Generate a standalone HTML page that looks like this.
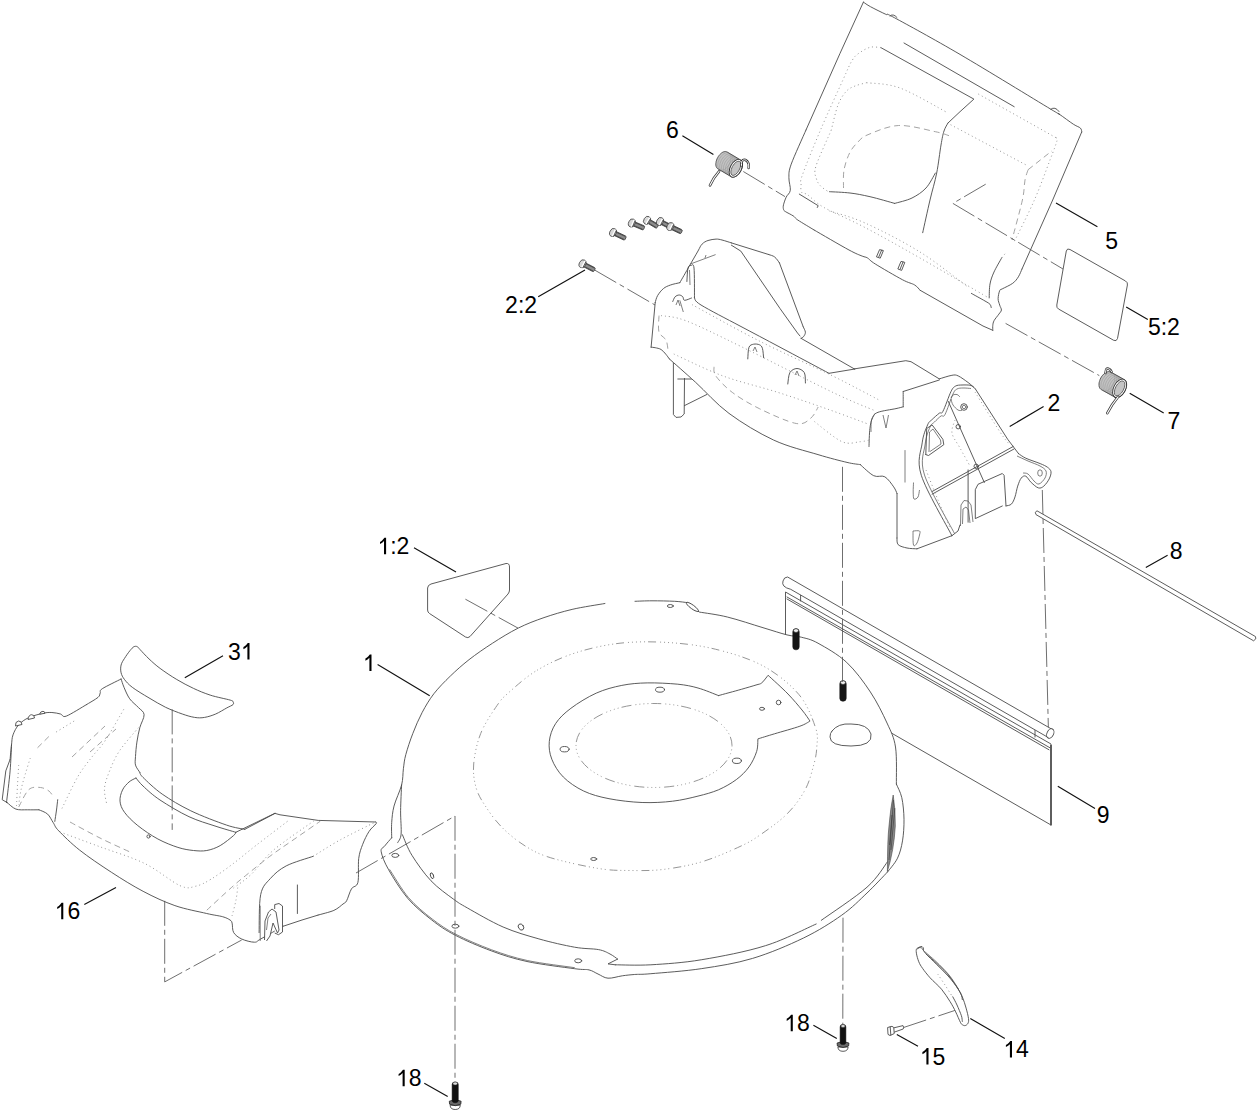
<!DOCTYPE html>
<html><head><meta charset="utf-8">
<style>
html,body{margin:0;padding:0;background:#fff;}
svg{display:block;}
text{font-family:"Liberation Sans",sans-serif;font-size:23px;fill:#000;}
.o{fill:none;stroke:#4a4a4a;stroke-width:0.9;stroke-linejoin:round;stroke-linecap:round;}
.w{fill:#fff;}
.ow{fill:#fff;stroke:#4a4a4a;stroke-width:0.9;stroke-linejoin:round;}
.nw{fill:#fff;stroke:none;}
.t{fill:none;stroke:#555;stroke-width:0.75;}
.d{fill:none;stroke:#8a8a8a;stroke-width:0.9;stroke-dasharray:1 3;}
.dd{fill:none;stroke:#999;stroke-width:0.9;stroke-dasharray:6 4;}
.c{fill:none;stroke:#555;stroke-width:0.85;stroke-dasharray:25 4 5 4;}
.l{fill:none;stroke:#111;stroke-width:1.15;}
.sp{fill:#c2c2c2;stroke:none;}
.k{fill:#151515;stroke:#151515;stroke-width:0.6;}
</style></head>
<body>
<svg width="1258" height="1110" viewBox="0 0 1258 1110">
<path class="c" d="M743.3 171.5 L785 196.6"/>
<path class="c" d="M1005.6 323.4 L1099.3 375.6"/>
<path class="c" d="M594.6 270 L655 305"/>
<path class="c" d="M1042.3 490 L1048.4 729"/>
<path class="c" d="M902.4 1027.9 L959.2 1009"/>
<path class="ow" d="M785.5 592 L1051 744 L1051 825 L785.5 672 Z"/>
<path class="o" d="M787 597 L1049.8 747.7"/>
<path class="o" d="M787 599 L1049 749.8"/>
<path d="M1051 745 L1051 825.5" stroke="#505050" stroke-width="1.7" fill="none"/>
<path class="o" d="M800.6 594.7 L800.6 601"/>
<path class="o" d="M1035 729.5 L1035 737"/>
<path class="ow" d="M787.6 577 L1052 729.3 L1047 736.8 L790.7 589.3 Q781 587 783 581 Q784 577 787.6 577 Z"/>
<ellipse class="ow" cx="1050.3" cy="733.5" rx="3.3" ry="5" transform="rotate(25 1050.3 733.5)"/>
<path class="ow" d="M1037 510.8 L1255.5 636.6 Q1257 639 1253.6 640.8 L1036 514.6 Q1034 512 1037 510.8 Z"/>
<path class="nw" d="M391.7 837.8 C391.7 835.2 391.3 827.8 391.7 822.5 C392.1 817.2 392.4 812.4 394 806.1 C395.6 799.9 400 791.2 401.6 785 C403.2 778.8 402.7 773.8 403.4 768.7 C404.1 763.6 404.2 760.5 405.8 754.6 C407.4 748.7 410.1 740.5 412.8 733.5 C415.5 726.5 418.7 719 422.2 712.4 C425.7 705.8 429.2 699.8 433.9 693.7 C438.6 687.7 444.4 681.8 450.3 676.1 C456.2 670.4 462 665.2 469 659.7 C476 654.2 484.2 648.6 492.4 643.3 C500.6 638 509.6 632.4 518.2 628.1 C526.8 623.8 535 620.7 544 617.6 C553 614.5 562 611.8 572.1 609.4 C582.2 607 594.4 604.9 604.9 603.5 C615.4 602.1 627.1 601.8 635 601.3 C642.9 600.8 645.4 600.8 652 600.8 C658.6 600.8 668.9 601 674.7 601.3 C680.6 601.6 683 600.8 687.1 602.6 C691.2 604.4 692.8 609.7 699.5 612.1 C706.2 614.5 716.7 614.4 727.3 617 C737.9 619.6 753 624.7 763 627.7 C773 630.7 780.6 633.3 787 634.9 C793.4 636.5 796.1 635.8 801.3 637.2 C806.5 638.6 810.5 639 818 643.2 C825.5 647.4 837.9 654.2 846.6 662.3 C855.3 670.4 863.7 681.9 870.4 692 C877.1 702.1 882.8 713.8 887 723 C891.2 732.2 893.9 736.8 895.5 747 C897.1 757.2 895.4 775.8 896.4 784.2 C897.4 792.7 900.5 791.9 901.8 797.7 C903.1 803.6 903.9 812.1 904 819.3 C904.1 826.5 903.6 834.4 902.5 840.9 C901.4 847.4 900 853 897.5 858.2 C895 863.4 892.6 866.2 887.5 872 C882.4 877.8 874.6 885.8 867 893 C859.4 900.2 852.3 907.7 841.7 915.2 C831.1 922.7 818.4 930.8 803.5 938 C788.6 945.2 769.6 953.3 752.6 958.4 C735.6 963.5 718.8 966 701.8 968.6 C684.8 971.2 662.1 972.7 650.9 973.7 C639.6 974.7 639.1 974.1 634.3 974.5 C629.5 974.9 626.7 975.2 622.3 975.8 C617.9 976.4 612 978.5 608 978.2 C604 977.9 601.2 975.4 598 974 C594.8 972.6 592.9 970.8 589 969.9 C585.1 969 584.9 970.1 574.6 968.7 C564.3 967.3 540.9 964.5 527 961.5 C513.1 958.5 503.1 955.2 491.2 950.8 C479.3 946.4 465.3 940.5 455.4 935.3 C445.4 930.1 439.4 926 431.5 919.8 C423.6 913.6 414.8 906.6 407.7 898.3 C400.6 889.9 393 877.5 388.6 869.7 C384.2 862 381.9 855.8 381.2 851.8 C380.5 847.8 382.9 848.3 384.7 846 C386.4 843.7 390.5 839.2 391.7 837.8 C392.9 836.4 391.7 840.3 391.7 837.8 Z"/>
<path class="o" d="M391.7 837.8 C391.7 835.2 391.3 827.8 391.7 822.5 C392.1 817.2 392.4 812.4 394 806.1 C395.6 799.9 400 791.2 401.6 785 C403.2 778.8 402.7 773.8 403.4 768.7 C404.1 763.6 404.2 760.5 405.8 754.6 C407.4 748.7 410.1 740.5 412.8 733.5 C415.5 726.5 418.7 719 422.2 712.4 C425.7 705.8 429.2 699.8 433.9 693.7 C438.6 687.7 444.4 681.8 450.3 676.1 C456.2 670.4 462 665.2 469 659.7 C476 654.2 484.2 648.6 492.4 643.3 C500.6 638 509.6 632.4 518.2 628.1 C526.8 623.8 535 620.7 544 617.6 C553 614.5 562 611.8 572.1 609.4 C582.2 607 599.4 604.5 604.9 603.5"/>
<path class="o" d="M635 601.3 C637.8 601.2 645.4 600.8 652 600.8 C658.6 600.8 668.9 601 674.7 601.3 C680.6 601.6 685 602.4 687.1 602.6"/>
<path class="o" d="M699.5 612.1 C704.1 612.9 716.7 614.4 727.3 617 C737.9 619.6 753 624.7 763 627.7 C773 630.7 780.6 633.3 787 634.9 C793.4 636.5 796.1 635.8 801.3 637.2 C806.5 638.6 810.5 639 818 643.2 C825.5 647.4 837.9 654.2 846.6 662.3 C855.3 670.4 863.7 681.9 870.4 692 C877.1 702.1 882.8 713.8 887 723 C891.2 732.2 893.9 736.8 895.5 747 C897.1 757.2 896.2 778 896.4 784.2"/>
<path class="o" d="M896.4 784.2 C897.3 786.5 900.5 791.9 901.8 797.7 C903.1 803.6 903.9 812.1 904 819.3 C904.1 826.5 903.6 834.4 902.5 840.9 C901.4 847.4 900 853 897.5 858.2 C895 863.4 889.2 869.7 887.5 872"/>
<path class="o" d="M887.5 872 C884.1 875.5 874.6 885.8 867 893 C859.4 900.2 852.3 907.7 841.7 915.2 C831.1 922.7 818.4 930.8 803.5 938 C788.6 945.2 769.6 953.3 752.6 958.4 C735.6 963.5 718.8 966 701.8 968.6 C684.8 971.2 662.1 972.7 650.9 973.7 C639.6 974.7 639.1 974.1 634.3 974.5 C629.5 974.9 626.7 975.2 622.3 975.8 C617.9 976.4 612 978.5 608 978.2 C604 977.9 601.2 975.4 598 974 C594.8 972.6 592.9 970.8 589 969.9 C585.1 969 584.9 970.1 574.6 968.7 C564.3 967.3 540.9 964.5 527 961.5 C513.1 958.5 503.1 955.2 491.2 950.8 C479.3 946.4 465.3 940.5 455.4 935.3 C445.4 930.1 439.4 926 431.5 919.8 C423.6 913.6 414.8 906.6 407.7 898.3 C400.6 889.9 393 877.5 388.6 869.7 C384.2 862 381.9 855.8 381.2 851.8 C380.5 847.8 382.9 848.3 384.7 846 C386.4 843.7 390.5 839.2 391.7 837.8"/>
<ellipse class="o" cx="692.5" cy="607" rx="7.6" ry="1.9" transform="rotate(36 692.5 607)"/>
<path class="o" d="M401.6 785 C401.4 789.3 400.7 802.6 400.6 810.8 C400.5 819 401.6 828.9 401.1 834.2 C400.6 839.5 398.2 841.3 397.6 842.7"/>
<path class="o" d="M402.4 834.7 C404 838.2 407.2 847.7 412 855.4 C416.8 863.1 424.1 873.5 431 880.8 C437.9 888.1 447.2 894.5 453.3 899 C459.4 903.5 459 903.2 467.3 907.9 C475.6 912.6 491.2 921.8 503.1 927 C515 932.2 527 935.5 538.9 938.9 C550.8 942.3 564.7 945.4 574.6 947.2 C584.5 949 592.6 948.5 598.5 949.6 C604.4 950.7 606.8 952.4 610 954 C613.2 955.6 616.3 958.2 617.6 959.1"/>
<path class="o" d="M617.6 959.1 L608 963.9 L615.3 964.8"/>
<path class="o" d="M615.3 964.8 C621.2 964.8 636.5 965.6 650.9 964.8 C665.3 963.9 682.7 962.9 701.8 959.7 C720.9 956.5 746.3 951.7 765.4 945.7 C784.5 939.8 807.7 927.6 816.2 924"/>
<path class="o" d="M821.3 920.3 C828.9 914.8 856 897 867 887.2 C878 877.5 884.1 866 887.5 861.8"/>
<path class="o" d="M718.5 695.6 C722.3 694.5 735.1 691.1 741.4 689.3 C747.6 687.5 752.6 686.1 756 685 C759.4 683.9 759.7 684.5 761.7 682.9 C763.7 681.3 767 676.6 768.1 675.3 C771.4 678.4 782.4 688.2 788 694 C793.6 699.8 798.3 705.5 802 710 C805.7 714.5 808.7 719.2 810 721.1 C808.3 722 805.8 724.1 799.9 726.2 C794 728.3 781.5 731.7 774.5 733.8 C767.5 735.9 760.7 738 757.9 738.9 C757.7 741 758.1 746.9 756.6 751.6 C755.1 756.3 752.4 762.2 749 766.9 C745.6 771.6 741.4 775.8 736.3 779.6 C731.2 783.4 724.9 787 718.5 789.8 C712.1 792.5 705.6 794.2 698 796.1 C690.4 798 681.9 800.1 672.6 801.2 C663.3 802.3 652.7 802.9 642.1 802.5 C631.5 802.1 618.8 800.6 609 798.7 C599.2 796.8 591.2 794.6 583.6 791 C576 787.4 568.6 782.3 563.3 777 C558 771.7 554.1 765.1 551.8 759.2 C549.5 753.3 548.7 747.3 549.3 741.4 C549.9 735.5 552 729.1 555.6 723.6 C559.2 718.1 564.1 713.4 570.9 708.3 C577.7 703.2 587.8 696.9 596.3 693.1 C604.8 689.3 613.3 687.1 621.8 685.4 C630.3 683.7 637.9 683.1 647.2 682.9 C656.5 682.7 669.3 683.4 677.8 684.2 C686.3 685.1 691.2 686.1 698 688 C704.8 689.9 715.1 694.3 718.5 695.6"/>
<path class="d" d="M537 670.3 C548 663.7 561.2 657.5 575 653 C588.8 648.5 604.5 645 620 643.2 C635.5 641.5 651.8 641.5 667.7 642.5 C683.6 643.5 699.5 645.3 715.4 649.2 C731.3 653.1 749.1 658.4 763 665.9 C776.9 673.4 790.1 684.2 798.9 694.5 C807.7 704.8 812.6 719.1 815.6 727.9 C818.6 736.6 817.1 740.8 816.8 747 C816.5 753.2 815.7 757.8 813.7 765 C811.7 772.2 809.5 781.8 805 790 C800.5 798.2 794.5 806.5 787 814 C779.5 821.5 767.8 829.6 760 835 C752.2 840.4 749.7 842 740 846.5 C730.3 851 714.5 858 701.8 861.8 C689.1 865.6 675.6 867.9 663.6 869.4 C651.6 870.9 640.9 870.6 630 870.5 C619.1 870.4 611.7 870.6 598.5 868.5 C585.3 866.4 563 861.5 550.8 857.8 C538.6 854 533.4 851.1 525.2 846 C517 840.9 508.4 833.9 501.8 827.2 C495.2 820.6 489.7 812.7 485.4 806.1 C481.1 799.5 477.9 794.4 476 787.4 C474.1 780.4 472.9 773 473.7 764 C474.5 755 476.8 743.3 480.7 733.5 C484.6 723.7 492.4 712.2 497.1 705.4 C501.8 698.6 502.2 698.4 508.8 692.5 C515.5 686.6 526 676.9 537 670.3 Z" style="stroke-dasharray:1 3 1 3 1 3 1 3 1 3 8 4"/>
<ellipse class="d" cx="654" cy="745.5" rx="78" ry="42" style="stroke-dasharray:1 3 1 3 1 3 1 3 10 4"/>
<path class="o" d="M832 731 Q838 723 851 724 Q868 724 871 734 Q873 746 851 746 Q830 746 830 737 Q830 733 832 731 Z"/>
<g class="o">
<ellipse cx="660" cy="689.7" rx="4.5" ry="2.5"/>
<ellipse cx="564.6" cy="749.2" rx="4.5" ry="2.7"/>
<ellipse cx="736.9" cy="760.8" rx="4.5" ry="2.7"/>
<ellipse cx="762" cy="708.8" rx="2.5" ry="1.5"/>
<circle cx="778.6" cy="702.5" r="2.3"/>
<ellipse cx="670.3" cy="606" rx="3" ry="1.5"/>
<ellipse cx="593.7" cy="859" rx="3" ry="1.5"/>
<ellipse cx="395.3" cy="855.4" rx="3.5" ry="2"/>
<ellipse cx="432" cy="875.7" rx="1.5" ry="3" transform="rotate(-20 432 875.7)"/>
<ellipse cx="455.4" cy="926.2" rx="3.5" ry="2"/>
<ellipse cx="521" cy="927" rx="2.5" ry="3.3" transform="rotate(-35 521 927)"/>
<ellipse cx="578.2" cy="960.8" rx="3.5" ry="2"/>
</g>
<path d="M887.4 871.5 Q887.4 840 889 826 Q890.5 808 893.2 795 Q895.6 810 895.3 826 Q894 850 887.4 871.5 Z" fill="#8a8a8a" stroke="#444" stroke-width="0.6"/>
<path d="M889 860 L893.5 800 M891 850 L894.8 808 M889.5 845 L892 815" stroke="#333" stroke-width="0.6" fill="none"/>
<path class="t" d="M389.5 869.3 C392.7 874 401.4 889.3 408.5 897.6 C415.6 905.9 424.3 912.9 432.2 919 C440.1 925.1 446.1 929.3 456 934.4 C465.9 939.5 479.7 945.4 491.6 949.8 C503.5 954.1 513.4 957.5 527.3 960.5 C541.2 963.5 566.9 966.5 574.8 967.7"/>
<rect class="k" x="792.8" y="628.8" width="6.4" height="21" rx="3"/><ellipse cx="796" cy="630.6" rx="2.5" ry="1.9" fill="#eee" stroke="#333" stroke-width="0.7"/>
<rect class="k" x="839.8" y="680.8" width="6.4" height="20.4" rx="3"/><ellipse cx="843" cy="682.6" rx="2.5" ry="1.9" fill="#eee" stroke="#333" stroke-width="0.7"/>
<path class="nw" d="M863.4 2.1 L870.5 6.7 L885.8 14.3 L894.4 17.7 L960 54.4 L1050.8 109.2 L1059 114 L1073.5 124.3 L1080.4 128.1 L1081.7 132 L1052.7 200 L1022 269 L1018.4 276.8 L1012.7 283.3 L1002.2 288.9 L999.7 290.6 L998.1 298.7 L999.7 305.1 L1001.4 310 L998.9 314.1 L994.1 320.6 L992.8 325.4 L992.8 330.3 L983 326 L920 290.2 L914.7 285 L902.4 279.7 L875.3 264 L867.4 257.9 L862.2 256.1 L849 250 L814.1 230 L797.9 220.1 L793.4 216 L785.3 211.5 L783.5 209.3 L783.5 204.8 L786.2 197.1 L790.3 190.4 L788.9 177.7 L791.2 164.2 L806 130 L840 53.4 Z"/>
<path class="o" d="M863.4 2.1 C864.6 2.9 866.8 4.7 870.5 6.7 C874.2 8.7 881.8 12.5 885.8 14.3 C889.8 16.1 882 11 894.4 17.7 C906.8 24.4 933.9 39.1 960 54.4 C986.1 69.7 1034.3 99.3 1050.8 109.2 C1067.3 119.1 1055.2 111.5 1059 114 C1062.8 116.5 1069.9 122 1073.5 124.3 C1077.1 126.6 1079 126.8 1080.4 128.1 C1081.8 129.4 1081.5 131.3 1081.7 132"/>
<path class="o" d="M1081.7 132 L1052.7 200 L1022 269"/>
<path class="o" d="M1022 269 C1021.4 270.3 1019.9 274.4 1018.4 276.8 C1016.9 279.2 1015.4 281.3 1012.7 283.3 C1010 285.3 1004.4 287.7 1002.2 288.9 C1000 290.1 1000.4 289 999.7 290.6 C999 292.2 998.1 296.3 998.1 298.7 C998.1 301.1 999.2 303.2 999.7 305.1 C1000.2 307 1001.5 308.5 1001.4 310 C1001.3 311.5 1000.1 312.3 998.9 314.1 C997.7 315.9 995.1 318.7 994.1 320.6 C993.1 322.5 993 323.8 992.8 325.4 C992.6 327 992.8 329.5 992.8 330.3"/>
<path class="o" d="M992.8 330.3 L983 326 L920 290.2"/>
<path class="o" d="M920 290.2 C919.1 289.3 917.6 286.8 914.7 285 C911.8 283.2 909 283.2 902.4 279.7 C895.8 276.2 881.1 267.6 875.3 264 C869.5 260.4 869.6 259.2 867.4 257.9 C865.2 256.6 865.3 257.4 862.2 256.1 C859.1 254.8 857 254.3 849 250 C841 245.7 819.9 233.3 814.1 230"/>
<path class="o" d="M814.1 230 C811.4 228.3 801.4 222.4 797.9 220.1 C794.4 217.8 795.5 217.4 793.4 216 C791.3 214.6 786.9 212.6 785.3 211.5 C783.6 210.4 783.8 210.4 783.5 209.3 C783.2 208.2 783 206.8 783.5 204.8 C784 202.8 785.1 199.5 786.2 197.1 C787.3 194.7 789.8 193.6 790.3 190.4 C790.8 187.2 788.8 182.1 788.9 177.7 C789 173.3 788.4 172.1 791.2 164.2 C794.1 156.2 803.5 135.7 806 130"/>
<path class="o" d="M806 130 L840 53.4 L863.4 2.1"/>
<path class="o" d="M890 16 Q893 13 897 17.5"/>
<path class="o" d="M1050.8 109.2 Q1055 106 1059 111.5"/>
<path class="o" d="M904 43 L1014.2 106.7"/>
<path class="o" d="M881 47.7 L973.9 99.1 L960 111.7 L948 123"/>
<path class="o" d="M948 123 C947.3 124.3 945.2 127.3 944 131 C942.8 134.7 942.2 138 941 145 C939.8 152 938.5 163.8 936.7 173 C934.9 182.2 932.3 190.1 930 200 C927.7 209.9 923.9 227.2 922.7 232.7"/>
<path class="o" d="M829.5 191.7 C832.9 191.9 843.2 192.2 850 193 C856.8 193.8 862.5 195 870 196.7 C877.5 198.4 890.6 202.3 894.7 203.4"/>
<path class="o" d="M894.7 203.4 C897.6 202.5 906.8 200.6 912 198 C917.2 195.4 922.1 192.2 926 188 C929.9 183.8 933.8 175.5 935.4 173"/>
<path class="o" d="M799.3 194.1 L818.2 205.7 L817.3 207.5"/>
<path class="o" d="M971.4 293.4 C973.7 294.7 981.9 299.2 985 301 C988.1 302.8 989 303.2 990 304.3 C991 305.4 991 307.1 991.2 307.6"/>
<path class="o" d="M989.2 297.9 C989.3 295.6 989.2 288.3 990 284 C990.8 279.7 992 276.4 994 272 C996 267.6 1000.5 260.1 1001.8 257.7"/>
<path class="d" d="M1001.8 257.7 L1006.2 252.4"/>
<path class="d" d="M881 47.7 C879.2 47.6 874 46.4 870.5 47.2 C867 48 863 50.4 860 52.5 C857 54.6 855.2 55.4 852.4 60 C849.5 64.6 848.2 68.3 842.9 80 C837.6 91.7 827.2 114.2 820.5 130 C813.8 145.8 805.6 166 802.4 175 C799.2 184 801.2 181.1 801.1 184 C801 186.9 800.4 190.4 801.5 192.2 C802.6 194 804 192.3 807.8 194.9 C811.5 197.5 814.5 202.1 824 207.5 C833.5 212.9 848.6 218.9 864.6 227.3 C880.6 235.7 899.3 246.2 920 258 C940.7 269.8 977.3 291.3 988.8 298"/>
<path class="d" d="M831.3 130 C828.8 136 818.5 157.9 816 166 C813.5 174.1 815.6 175.3 816.4 178.6 C817.1 181.9 818.6 183.8 820.5 185.9 C822.4 188 826.5 190.4 827.7 191.3"/>
<path class="d" d="M866.7 82.7 C864.8 83.2 858.5 84.5 855 86 C851.5 87.5 848.8 88.4 846 91.6 C843.2 94.8 840.5 98.6 838 105 C835.5 111.4 832.4 125.8 831.3 130"/>
<path class="d" d="M866.7 82.7 C872.2 83.6 886.5 83 900 88 C913.5 93 940 108.8 948 113"/>
<path class="d" d="M829.5 211 C835.4 213 849.5 216 864.6 222.8 C879.7 229.6 902.7 241.2 920 252 C937.3 262.8 960.4 281.5 968.5 287.4"/>
<path class="d" d="M978.3 94 L1055.8 137.6"/>
<path class="d" d="M1055.8 137.6 C1056 138.1 1058 137 1057 140.7 C1056 144.4 1053.8 150.1 1050 160 C1046.2 169.9 1040.4 186.4 1034.4 200 C1028.5 213.6 1017.6 234.7 1014.3 241.6"/>
<path class="d" d="M950.6 124.7 L1025.6 164.7"/>
<path class="dd" d="M1028.1 169.7 L1052 150.8"/>
<path class="dd" d="M1028.1 169.7 C1027.6 171.4 1026 174.9 1025 180 C1024 185.1 1024.6 190 1022.4 200 C1020.2 210 1013.7 233.3 1012 240"/>
<path class="dd" d="M843.5 188 C843.6 185 843 175.8 844 170 C845 164.2 847.3 157.7 849.6 153 C851.9 148.3 854.9 145.1 858 142 C861.1 138.9 861.2 137.4 868 134.7 C874.8 131.9 887.4 126 898.6 125.5 C909.8 125 926.7 129.9 935.3 131.7 C943.9 133.4 947.5 135.3 950 136"/>
<path class="o" d="M876.6 256.5 L879.6 249.6 L883.4 250.6 L880.4 257.8 Z M878.8 256.8 L881.6 250.2"/>
<path class="o" d="M898 268.6 L901 261.4 L904.8 262.4 L901.8 270 Z M900.2 269 L903 262"/>
<path class="ow" d="M673.4 362 L673.4 414.5 L676 417.4 L681 417 L684.2 414 L684.5 378"/>
<path class="o" d="M684.5 405.6 L706.8 394.5"/>
<path class="o" d="M677.8 379 L692.3 379"/>
<path class="nw" d="M679.8 282.7 L689.2 266.3 L702.1 244.1 L706.8 241.1 L716.1 239.1 L722 240 L731.4 242.9 L768.9 254.6 L774.7 257 L779.4 262.8 L803.3 327 L805.4 332.2 L803.6 336.6 L801 338.3 L854.3 368.9 L905.8 360.7 L911 361.7 L939.3 378.9 L951.9 375.3 L958.2 375.9 L968.1 382.5 L975.3 388.8 L1007.7 439.3 L1018.6 453.7 L1025.8 458.2 L1040.2 463.6 L1047.4 467.2 L1051 471.7 L1049.2 478.9 L1043.8 486.1 L1038.4 487.9 L1031.2 482.5 L1025.8 476.2 L1021.3 478 L1017.7 486.1 L1015 496.9 L1011.4 504.1 L1006 505.9 L1002.3 506 L975.3 520 L975.3 524 L968 527 L960 525 L958 531 L951.9 535.7 L917 548.8 L907 548 L898.2 544.7 L897 538 L897 493.5 L893.7 486.9 L884.8 476.8 L873.7 475.7 L860.3 464.6 L847 462.4 L818 454.6 L773.5 440 L729 413.4 L695.6 382.3 L669.3 358.9 L665.8 354.2 L661.1 349.5 L655.2 347.7 L651.1 347.2 L655.2 302.6 L657.6 295.6 L663.4 288.6 L670.5 285 Z"/>
<path class="o" d="M679.8 282.7 C681.4 280 686.2 271.6 689.2 266.3 C692.2 261 695.9 254.7 698 251 C700.1 247.3 700.4 245.8 702.1 244.1 C703.8 242.3 705.7 241.3 708 240.5 C710.3 239.7 713.8 239.2 716.1 239.1 C718.4 239 719.5 239.4 722 240 C724.5 240.6 729.8 242.4 731.4 242.9"/>
<path class="o" d="M731.4 242.9 L768.9 254.6"/>
<path class="o" d="M768.9 254.6 C769.9 255 773 255.6 774.7 257 C776.5 258.4 778.6 261.8 779.4 262.8"/>
<path class="o" d="M779.4 262.8 L803.3 327"/>
<path class="o" d="M803.3 327 C803.6 327.9 805.3 330.6 805.4 332.2 C805.5 333.8 804.3 335.6 803.6 336.6 C802.9 337.6 801.4 338 801 338.3"/>
<path class="o" d="M801 338.3 L854.3 368.9"/>
<path class="o" d="M731.4 245.2 L740.8 251.1 L780 308.5 L797.5 333 L800 336"/>
<path class="t" d="M690.4 264 L715.6 254.6"/>
<path class="t" d="M705 258 L706 255"/>
<path class="o" d="M686.9 281.5 C687.1 279.2 687.3 270.7 688 268 C688.7 265.3 690 265.5 691 265.5 C692 265.5 693.4 262.6 694 268 C694.6 273.4 694.4 293 694.5 298"/>
<path class="t" d="M689.5 270 L690 285"/>
<path class="o" d="M679.8 282.7 C678.2 283.1 673.2 284 670.5 285 C667.8 286 665.5 286.8 663.4 288.6 C661.2 290.4 659 293.3 657.6 295.6 C656.2 297.9 655.6 301.4 655.2 302.6"/>
<path class="o" d="M655.2 302.6 L651.1 347.2"/>
<path class="o" d="M651.1 347.2 C651.8 347.3 653.5 347.3 655.2 347.7 C656.9 348.1 659.3 348.4 661.1 349.5 C662.9 350.6 664.4 352.6 665.8 354.2 C667.2 355.8 668.7 358.1 669.3 358.9"/>
<path class="o" d="M669.3 358.9 C673.7 362.8 685.6 373.2 695.6 382.3 C705.6 391.4 716 403.8 729 413.4 C742 423 758.7 433.1 773.5 440 C788.3 446.9 805.8 450.9 818 454.6 C830.2 458.3 840 460.7 847 462.4 C854 464.1 858.1 464.2 860.3 464.6"/>
<path class="o" d="M860.3 464.6 C862.5 466.5 869.6 473.7 873.7 475.7 C877.8 477.7 881.5 474.9 884.8 476.8 C888.1 478.7 891.7 484.1 893.7 486.9 C895.7 489.7 896.5 492.4 897 493.5"/>
<path class="o" d="M897 493.5 L897 538"/>
<path class="o" d="M897 538 C897.2 539.1 896.5 543 898.2 544.7 C899.9 546.4 903.9 547.3 907 548 C910.1 548.7 915.3 548.7 917 548.8"/>
<path class="o" d="M917 548.8 L951.9 535.7"/>
<path class="o" d="M1006 505.9 C1006.9 505.6 1009.9 505.6 1011.4 504.1 C1012.9 502.6 1014 499.9 1015 496.9 C1016 493.9 1016.7 489.2 1017.7 486.1 C1018.8 483 1019.9 479.6 1021.3 478 C1022.6 476.4 1024.1 475.4 1025.8 476.2 C1027.5 476.9 1029.1 480.6 1031.2 482.5 C1033.3 484.4 1036.3 487.3 1038.4 487.9 C1040.5 488.5 1042 487.6 1043.8 486.1 C1045.6 484.6 1048 481.3 1049.2 478.9 C1050.4 476.5 1051.3 473.6 1051 471.7 C1050.7 469.8 1049.2 468.5 1047.4 467.2 C1045.6 465.9 1043.8 465.1 1040.2 463.6 C1036.6 462.1 1029.4 459.9 1025.8 458.2 C1022.2 456.5 1019.8 454.4 1018.6 453.7"/>
<path class="o" d="M1018.6 453.7 L1007.7 439.3 L975.3 388.8"/>
<path class="o" d="M975.3 388.8 C974.1 387.8 971 384.6 968.1 382.5 C965.2 380.4 960.9 377.1 958.2 375.9 C955.5 374.7 955 374.8 951.9 375.3 C948.8 375.8 941.4 378.3 939.3 378.9"/>
<path class="o" d="M939.3 378.9 L911 361.7 L905.8 360.7 L854.3 368.9"/>
<path class="t" d="M1017 456 C1018.8 456.8 1024.2 459.3 1028 461 C1031.8 462.7 1037 464.3 1040 466 C1043 467.7 1045.2 469 1046 471 C1046.8 473 1046.2 475.8 1045 478 C1043.8 480.2 1040.8 483.5 1039 484 C1037.2 484.5 1035.8 482.7 1034 481 C1032.2 479.3 1029.8 475.3 1028 474 C1026.2 472.7 1023.8 473.2 1023 473"/>
<path class="o" d="M1006 505.9 L1004.1 475.3 L1002.3 473.5 L978 484.3 L975.3 489.7 L975.3 518.6 L1002.3 506"/>
<path class="o" d="M968.1 469.9 L968.1 522.2"/>
<path class="t" d="M960.5 526 L961 505 L964 500.5 L968 501 L971 505 L973 522"/>
<path class="t" d="M962.5 524 L963 509 L966 507 L968.5 510 L970 523"/>
<path class="o" d="M951.9 535.7 L958 531 L960 525"/>
<path class="o" d="M694.5 298 C695.6 299.2 693.4 300.3 701 305 C708.6 309.7 726.8 319 740 326 C753.2 333 765.2 339.3 780 347.2 C794.8 355.1 820.8 368.9 829 373.3"/>
<path class="o" d="M829 373.3 L855 369"/>
<path class="o" d="M672.8 301.5 C673.2 300.7 674 297.9 675.1 296.8 C676.2 295.7 677.9 295 679.2 295 C680.5 295 681.9 295.9 682.8 296.8 C683.7 297.7 683 300.1 684.5 300.3 C686 300.5 690.3 298.4 691.5 298"/>
<path class="o" d="M747.8 358.9 C748 356.9 748 349.6 749 347.2 C750 344.8 751.9 344.6 753.6 344.2 C755.4 343.8 758 344.1 759.5 344.8 C761 345.5 761.7 346.2 762.4 348.3 C763.1 350.4 763.4 356.1 763.6 357.7"/>
<path class="o" d="M787.8 384 C788.1 382.1 788.4 375.2 789.9 372.6 C791.4 370 794.6 368.5 797 368.5 C799.4 368.5 802.9 370.2 804.3 372.6 C805.7 375 805.2 381.3 805.4 383"/>
<path class="t" d="M679.8 300.3 L683.3 312"/>
<path class="t" d="M676 305 L678 300 L680 306"/>
<path class="t" d="M753 351 L755 347 L757 352"/>
<path class="t" d="M795 375 L797 371 L799 376"/>
<path class="o" d="M903.2 391.5 L939.3 380"/>
<path class="o" d="M903.2 391.5 C903.2 394.1 903.2 404.2 903.2 406.8"/>
<path class="o" d="M903.2 406.8 C902 407.1 900.2 407.7 896 408.6 C891.8 409.5 881.9 410.8 878 412.3 C874.1 413.8 874 415 872.6 417.7 C871.2 420.4 870.5 423.7 869.9 428.5 C869.3 433.3 869.1 443.5 869 446.5"/>
<path class="t" d="M875.5 413 C874.8 414.2 872.2 416.8 871.5 420 C870.8 423.2 871.1 430 871 432"/>
<path class="t" d="M905 450.1 L905 482.5"/>
<path class="t" d="M883 415 L886 428 L888.5 415"/>
<path class="t" d="M913.5 482.5 C913.5 484.1 913.1 489.2 913.2 492 C913.3 494.8 913.2 498.2 914 499 C914.8 499.8 917.1 498.5 918 497 C918.9 495.5 919.2 491.2 919.5 490"/>
<path class="t" d="M913 531 C913.1 533.3 912.8 543 913.5 545 C914.2 547 916 544.7 917 543 C918 541.3 919.1 537 919.5 535 C919.9 533 920.6 531.7 919.5 531 C918.4 530.3 914.1 531 913 531"/>
<path class="o" d="M951.9 535.7 C946.8 525.6 926.2 490.8 921.3 475.3 C916.3 459.8 921.2 451.3 922.2 442.9 C923.2 434.5 926 428.8 927.6 424.9 C929.2 421 930.2 421.4 932.1 419.5 C934 417.6 937.5 414.6 939.3 413.2 C941.1 411.8 940.9 415 942.9 411.4 C944.9 407.8 948.9 395.7 951 391.5 C953.1 387.3 953.7 387.2 955.5 386.1 C957.3 385 959.6 385.1 962 385 C964.4 384.9 968 384.9 969.9 385.2 C971.8 385.5 972.9 386.7 973.5 387"/>
<path class="t" d="M954.5 533.5 C949.5 523.8 929.4 489.9 924.5 475 C919.6 460.1 924.3 452 925.2 444 C926.1 436 928.5 430.7 930 427 C931.5 423.3 932.7 423.8 934.5 422 C936.3 420.2 939.2 417.2 941 416 C942.8 414.8 943 418.2 945 414.5 C947 410.8 951 398.2 953 394 C955 389.8 955.3 390 957 389 C958.7 388 960.7 388.1 963 388 C965.3 387.9 969.7 388.4 971 388.5"/>
<path class="o" d="M925.8 454.6 L926.7 428.5 L932.1 424.9 L942.9 439.3 L943.8 444.7 L928.5 455.5 L925.8 454.6"/>
<path class="t" d="M929 452 L929.5 432 L933 429 L940.5 440 L941 444 L930 451.5"/>
<path class="o" d="M932.1 491.5 L1013.2 446.5"/>
<path class="o" d="M932.1 494.2 L1014 449"/>
<path class="o" d="M948.3 401.4 L984.3 482.5"/>
<circle class="o" cx="964" cy="407" r="3.3"/><circle class="t" cx="964" cy="407" r="1.7"/>
<path class="t" d="M951 398 C951.3 397.5 952 395.6 953 395 C954 394.4 955.8 394.2 957 394.5 C958.2 394.8 959.5 396.6 960 397"/>
<path class="t" d="M951 399 C951.3 400 951.8 403.2 953 405 C954.2 406.8 956.5 409.1 958 410 C959.5 410.9 961.3 410.4 962 410.5"/>
<circle class="o" cx="958.2" cy="426.7" r="2.2"/><circle class="o" cx="976.2" cy="466.3" r="2.2"/>
<ellipse class="t" cx="1040" cy="473" rx="2.3" ry="3.2"/>
<path class="d" d="M955 420 C954.5 422.2 951.2 428.3 952 433 C952.8 437.7 957 442.5 960 448 C963 453.5 968.3 463 970 466"/>
<path class="d" d="M975 392 C979.2 398.7 994.2 423.2 1000 432 C1005.8 440.8 1008.3 442.8 1010 445"/>
<path class="d" d="M692 304.6 C703.3 310.7 736.2 329.3 759.7 341.2 C783.2 353.1 813 366.2 832.8 376 C852.6 385.8 870.9 395.8 878.5 399.7"/>
<path class="d" d="M661 315.6 C665.3 316.5 673.2 315.8 686.6 321 C700 326.2 717 334.8 741.4 346.7 C765.8 358.6 810.5 381.7 832.8 392.4 C855 403.1 867.9 407.6 874.9 410.7"/>
<path class="d" d="M673.8 354 C682 357.7 705.7 369.6 723.1 376 C740.5 382.4 760.2 386.7 778 392.4 C795.8 398.1 815 404.7 830 410 C845 415.3 861.7 421.7 868 424"/>
<path class="dd" d="M714 366.8 C714.3 368.3 712.8 371.6 715.8 375.9 C718.8 380.2 725 386.9 732.3 392.4 C739.6 397.9 749 403.6 759.7 408.8 C770.4 414 787.8 422 796.3 423.5 C804.8 425 807.2 420.8 810.9 418 C814.5 415.2 817 408.8 818.2 407"/>
<path class="d" d="M814.5 421.6 C819.1 425 834.4 438.4 842 441.7 C849.6 445 855.6 442 860.2 441.7 C864.8 441.4 867.9 440.3 869.4 440"/>
<path class="dd" d="M659 315.6 C659 318.3 657.8 327.9 659 332 C660.2 336.1 664.5 337 666 340 C667.5 343 667.7 348.3 668 350"/>
<path class="d" d="M926 470 C928 475 934 490.3 938 500 C942 509.7 948 523.3 950 528"/>
<path class="sp" d="M715.8 164.5 L715.8 163.5 L716 162.4 L716.2 161.2 L716.6 160.1 L717 158.9 L717.6 157.8 L718.2 156.7 L718.9 155.7 L719.7 154.7 L720.5 153.9 L721.3 153.2 L722.2 152.5 L723.1 152.1 L723.9 151.7 L724.8 151.6 L725.6 151.5 L726.3 151.7 L727 151.9 L740.3 159.8 L740.9 160.2 L741.4 160.8 L741.9 161.5 L742.2 162.3 L742.4 163.2 L742.5 164.2 L742.5 165.2 L742.3 166.3 L742.1 167.5 L741.7 168.6 L741.3 169.8 L740.7 170.9 L740.1 172 L739.4 173 L738.6 174 L737.8 174.8 L737 175.5 L736.1 176.2 L735.2 176.6 L734.4 177 L733.5 177.1 L732.7 177.2 L732 177 L731.3 176.8 L718 168.9 L717.4 168.5 L716.9 167.9 L716.4 167.2 L716.1 166.4 L715.9 165.5 Z"/>
<ellipse cx="724.4" cy="161.5" rx="5.6" ry="9.6" transform="rotate(28 724.4 161.5)" fill="none" stroke="#999" stroke-width="0.5"/>
<ellipse cx="726.3" cy="162.7" rx="5.6" ry="9.6" transform="rotate(28 726.3 162.7)" fill="none" stroke="#999" stroke-width="0.5"/>
<ellipse cx="728.2" cy="163.8" rx="5.6" ry="9.6" transform="rotate(28 728.2 163.8)" fill="none" stroke="#999" stroke-width="0.5"/>
<ellipse cx="730.1" cy="164.9" rx="5.6" ry="9.6" transform="rotate(28 730.1 164.9)" fill="none" stroke="#999" stroke-width="0.5"/>
<ellipse cx="732.0" cy="166.0" rx="5.6" ry="9.6" transform="rotate(28 732.0 166.0)" fill="none" stroke="#999" stroke-width="0.5"/>
<ellipse cx="733.9" cy="167.2" rx="5.6" ry="9.6" transform="rotate(28 733.9 167.2)" fill="none" stroke="#999" stroke-width="0.5"/>
<path class="o" d="M715.8 164.5 L715.8 163.5 L716 162.4 L716.2 161.2 L716.6 160.1 L717 158.9 L717.6 157.8 L718.2 156.7 L718.9 155.7 L719.7 154.7 L720.5 153.9 L721.3 153.2 L722.2 152.5 L723.1 152.1 L723.9 151.7 L724.8 151.6 L725.6 151.5 L726.3 151.7 L727 151.9 L740.3 159.8 L740.9 160.2 L741.4 160.8 L741.9 161.5 L742.2 162.3 L742.4 163.2 L742.5 164.2 L742.5 165.2 L742.3 166.3 L742.1 167.5 L741.7 168.6 L741.3 169.8 L740.7 170.9 L740.1 172 L739.4 173 L738.6 174 L737.8 174.8 L737 175.5 L736.1 176.2 L735.2 176.6 L734.4 177 L733.5 177.1 L732.7 177.2 L732 177 L731.3 176.8 L718 168.9 L717.4 168.5 L716.9 167.9 L716.4 167.2 L716.1 166.4 L715.9 165.5 Z"/>
<ellipse cx="735.8" cy="168.3" rx="5.6" ry="9.6" transform="rotate(28 735.8 168.3)" fill="#fff" stroke="#333" stroke-width="0.9"/>
<ellipse cx="735.8" cy="168.3" rx="3.8" ry="7.8" transform="rotate(28 735.8 168.3)" fill="#c4c4c4" stroke="#444" stroke-width="0.7"/>
<path d="M719 171.5 L714 178 L710 185.3" fill="none" stroke="#333" stroke-width="2.6" stroke-linecap="round"/>
<path d="M719 171.5 L714 178 L710 185.3" fill="none" stroke="#fff" stroke-width="1.2" stroke-linecap="round"/>
<path d="M741.5 166 C741.6 165.2 741.3 162 742 161 C742.7 160 744.4 159.6 745.5 160 C746.6 160.4 748 162.2 748.5 163.5 C749 164.8 748.6 167.2 748.6 168" fill="none" stroke="#333" stroke-width="2.4" stroke-linecap="round"/>
<path d="M741.5 166 C741.6 165.2 741.3 162 742 161 C742.7 160 744.4 159.6 745.5 160 C746.6 160.4 748 162.2 748.5 163.5 C749 164.8 748.6 167.2 748.6 168" fill="none" stroke="#fff" stroke-width="1" stroke-linecap="round"/>
<path class="sp" d="M1099 385.1 L1099 384 L1099.1 382.8 L1099.4 381.6 L1099.8 380.4 L1100.2 379.2 L1100.8 378 L1101.4 376.9 L1102.2 375.8 L1103 374.9 L1103.8 374 L1104.7 373.2 L1105.6 372.6 L1106.6 372.1 L1107.5 371.8 L1108.3 371.6 L1109.2 371.6 L1110 371.7 L1110.7 372 L1124.3 379.6 L1124.9 380 L1125.5 380.6 L1125.9 381.3 L1126.3 382.1 L1126.5 383.1 L1126.6 384.1 L1126.6 385.2 L1126.5 386.4 L1126.2 387.6 L1125.8 388.8 L1125.4 390 L1124.8 391.2 L1124.2 392.3 L1123.4 393.4 L1122.6 394.3 L1121.8 395.2 L1120.9 396 L1120 396.6 L1119 397.1 L1118.1 397.4 L1117.3 397.6 L1116.4 397.6 L1115.6 397.5 L1114.9 397.2 L1101.3 389.6 L1100.7 389.2 L1100.1 388.6 L1099.7 387.9 L1099.3 387.1 L1099.1 386.1 Z"/>
<ellipse cx="1107.9" cy="381.9" rx="5.9" ry="10.0" transform="rotate(28 1107.9 381.9)" fill="none" stroke="#999" stroke-width="0.5"/>
<ellipse cx="1109.9" cy="383.0" rx="5.9" ry="10.0" transform="rotate(28 1109.9 383.0)" fill="none" stroke="#999" stroke-width="0.5"/>
<ellipse cx="1111.8" cy="384.1" rx="5.9" ry="10.0" transform="rotate(28 1111.8 384.1)" fill="none" stroke="#999" stroke-width="0.5"/>
<ellipse cx="1113.8" cy="385.1" rx="5.9" ry="10.0" transform="rotate(28 1113.8 385.1)" fill="none" stroke="#999" stroke-width="0.5"/>
<ellipse cx="1115.7" cy="386.2" rx="5.9" ry="10.0" transform="rotate(28 1115.7 386.2)" fill="none" stroke="#999" stroke-width="0.5"/>
<ellipse cx="1117.7" cy="387.3" rx="5.9" ry="10.0" transform="rotate(28 1117.7 387.3)" fill="none" stroke="#999" stroke-width="0.5"/>
<path class="o" d="M1099 385.1 L1099 384 L1099.1 382.8 L1099.4 381.6 L1099.8 380.4 L1100.2 379.2 L1100.8 378 L1101.4 376.9 L1102.2 375.8 L1103 374.9 L1103.8 374 L1104.7 373.2 L1105.6 372.6 L1106.6 372.1 L1107.5 371.8 L1108.3 371.6 L1109.2 371.6 L1110 371.7 L1110.7 372 L1124.3 379.6 L1124.9 380 L1125.5 380.6 L1125.9 381.3 L1126.3 382.1 L1126.5 383.1 L1126.6 384.1 L1126.6 385.2 L1126.5 386.4 L1126.2 387.6 L1125.8 388.8 L1125.4 390 L1124.8 391.2 L1124.2 392.3 L1123.4 393.4 L1122.6 394.3 L1121.8 395.2 L1120.9 396 L1120 396.6 L1119 397.1 L1118.1 397.4 L1117.3 397.6 L1116.4 397.6 L1115.6 397.5 L1114.9 397.2 L1101.3 389.6 L1100.7 389.2 L1100.1 388.6 L1099.7 387.9 L1099.3 387.1 L1099.1 386.1 Z"/>
<ellipse cx="1119.6" cy="388.4" rx="5.9" ry="10" transform="rotate(28 1119.6 388.4)" fill="#fff" stroke="#333" stroke-width="0.9"/>
<ellipse cx="1119.6" cy="388.4" rx="4.1" ry="8.2" transform="rotate(28 1119.6 388.4)" fill="#c4c4c4" stroke="#444" stroke-width="0.7"/>
<path d="M1118.1 396.8 L1112 405 L1107.3 413.2" fill="none" stroke="#333" stroke-width="2.6" stroke-linecap="round"/>
<path d="M1118.1 396.8 L1112 405 L1107.3 413.2" fill="none" stroke="#fff" stroke-width="1.2" stroke-linecap="round"/>
<path d="M1105.5 373 C1105.7 372.3 1105.8 369.4 1106.5 368.8 C1107.2 368.2 1109.2 369 1110 369.5 C1110.8 370 1111.3 371.6 1111.6 372" fill="none" stroke="#333" stroke-width="2.4" stroke-linecap="round"/>
<path d="M1105.5 373 C1105.7 372.3 1105.8 369.4 1106.5 368.8 C1107.2 368.2 1109.2 369 1110 369.5 C1110.8 370 1111.3 371.6 1111.6 372" fill="none" stroke="#fff" stroke-width="1" stroke-linecap="round"/>
<g transform="translate(613.0 232.5) rotate(25.1)"><rect x="0" y="-2.2" width="13.9" height="4.4" rx="1.2" fill="#8c8c8c" stroke="#333" stroke-width="0.7"/><path d="M2 -1.6 L12.9 -1.6 M2 1.6 L12.9 1.6" stroke="#444" stroke-width="0.8"/><ellipse cx="0" cy="0" rx="3.2" ry="4.2" fill="#d8d8d8" stroke="#333" stroke-width="0.7"/><rect x="0.3" y="-3.6" width="1.6" height="7.2" fill="#fff" stroke="none"/><path d="M2.1 -3.4 L2.1 3.4" stroke="#333" stroke-width="0.7"/></g>
<g transform="translate(631.8 223.0) rotate(22.8)"><rect x="0" y="-2.2" width="13.4" height="4.4" rx="1.2" fill="#8c8c8c" stroke="#333" stroke-width="0.7"/><path d="M2 -1.6 L12.4 -1.6 M2 1.6 L12.4 1.6" stroke="#444" stroke-width="0.8"/><ellipse cx="0" cy="0" rx="3.2" ry="4.2" fill="#d8d8d8" stroke="#333" stroke-width="0.7"/><rect x="0.3" y="-3.6" width="1.6" height="7.2" fill="#fff" stroke="none"/><path d="M2.1 -3.4 L2.1 3.4" stroke="#333" stroke-width="0.7"/></g>
<g transform="translate(647.0 220.3) rotate(30.5)"><rect x="0" y="-2.2" width="12.4" height="4.4" rx="1.2" fill="#8c8c8c" stroke="#333" stroke-width="0.7"/><path d="M2 -1.6 L11.4 -1.6 M2 1.6 L11.4 1.6" stroke="#444" stroke-width="0.8"/><ellipse cx="0" cy="0" rx="3.2" ry="4.2" fill="#d8d8d8" stroke="#333" stroke-width="0.7"/><rect x="0.3" y="-3.6" width="1.6" height="7.2" fill="#fff" stroke="none"/><path d="M2.1 -3.4 L2.1 3.4" stroke="#333" stroke-width="0.7"/></g>
<g transform="translate(660.0 221.5) rotate(26.8)"><rect x="0" y="-2.2" width="11.1" height="4.4" rx="1.2" fill="#8c8c8c" stroke="#333" stroke-width="0.7"/><path d="M2 -1.6 L10.1 -1.6 M2 1.6 L10.1 1.6" stroke="#444" stroke-width="0.8"/><ellipse cx="0" cy="0" rx="3.2" ry="4.2" fill="#d8d8d8" stroke="#333" stroke-width="0.7"/><rect x="0.3" y="-3.6" width="1.6" height="7.2" fill="#fff" stroke="none"/><path d="M2.1 -3.4 L2.1 3.4" stroke="#333" stroke-width="0.7"/></g>
<g transform="translate(670.3 226.6) rotate(25.3)"><rect x="0" y="-2.2" width="12.6" height="4.4" rx="1.2" fill="#8c8c8c" stroke="#333" stroke-width="0.7"/><path d="M2 -1.6 L11.6 -1.6 M2 1.6 L11.6 1.6" stroke="#444" stroke-width="0.8"/><ellipse cx="0" cy="0" rx="3.2" ry="4.2" fill="#d8d8d8" stroke="#333" stroke-width="0.7"/><rect x="0.3" y="-3.6" width="1.6" height="7.2" fill="#fff" stroke="none"/><path d="M2.1 -3.4 L2.1 3.4" stroke="#333" stroke-width="0.7"/></g>
<g transform="translate(582.5 263.8) rotate(27.1)"><rect x="0" y="-2.2" width="13.6" height="4.4" rx="1.2" fill="#8c8c8c" stroke="#333" stroke-width="0.7"/><path d="M2 -1.6 L12.6 -1.6 M2 1.6 L12.6 1.6" stroke="#444" stroke-width="0.8"/><ellipse cx="0" cy="0" rx="3.2" ry="4.2" fill="#d8d8d8" stroke="#333" stroke-width="0.7"/><rect x="0.3" y="-3.6" width="1.6" height="7.2" fill="#fff" stroke="none"/><path d="M2.1 -3.4 L2.1 3.4" stroke="#333" stroke-width="0.7"/></g>
<path class="ow" d="M1070 249.5 L1125.5 281 Q1128 282.5 1127.4 285 L1117.5 338.5 Q1116.5 341.8 1113.7 340.3 L1058.5 309 Q1056.3 307.6 1056.8 305 L1066.3 251 Q1067.2 247.8 1070 249.5 Z"/>
<path class="ow" d="M431 584 L506 563.5 Q509.5 563 509.5 567 L509.5 590 Q509.5 592 508 594 L470 636.5 Q468 638.5 465.5 637 L429.5 613.5 Q427.6 612.3 427.6 610 L427.6 588 Q427.8 585 431 584 Z"/>
<path class="c" d="M465.4 599.2 L518 628.1"/>
<path class="ow" d="M916.9 948.5 C917.8 947.6 920.2 947.2 921.6 948 C923 948.8 922.9 950.4 925.4 953.2 C927.9 956 933 960.8 936.8 964.6 C940.6 968.4 944.6 972.1 948.1 976 C951.6 979.9 955.2 984.7 957.6 988.2 C960 991.7 960.9 993.5 962.3 996.8 C963.7 1000.1 965.1 1004.5 966.1 1008.1 C967.1 1011.7 968.2 1016 968.5 1018.5 C968.8 1021 968.6 1022.1 968 1023.3 C967.4 1024.5 966.1 1025.4 965.1 1025.6 C964.1 1025.8 963.1 1025.2 962.3 1024.7 C961.5 1024.2 961.5 1024.4 960.4 1022.3 C959.3 1020.2 957.4 1015.4 955.7 1011.9 C954 1008.4 952.4 1005.3 950 1001.5 C947.6 997.7 944.8 993.2 941.5 989.2 C938.2 985.2 933.2 981.3 930.1 977.8 C927 974.3 924.5 971.1 922.6 968.4 C920.7 965.7 919.8 964.3 918.8 961.8 C917.8 959.3 916.7 955.4 916.4 953.2 C916.1 951 916 949.4 916.9 948.5 Z"/>
<path class="o" d="M926.4 954.2 C928.3 955.9 934.1 960.7 938 964.5 C941.9 968.3 946.3 972.2 950 977 C953.7 981.8 958.4 989.2 960.4 993 C962.4 996.8 962 998.5 962.3 999.6"/>
<path class="t" d="M924 951 C926 952.8 931.8 957.5 936 961.5 C940.2 965.5 945.2 970.4 949 975 C952.8 979.6 956.9 986.7 958.5 989"/>
<path class="o" d="M952.8 996.8 C953.5 998.2 955.6 1001.9 957 1005 C958.4 1008.1 960.5 1013 961.4 1015.7 C962.3 1018.4 962.1 1020.5 962.3 1021.4"/>
<path class="d" d="M937.7 974 C938.9 975.8 942.6 981.3 945 985 C947.4 988.7 950.8 994.2 952 996"/>
<path class="o" d="M917.5 949 Q919 946 922 946.5 Q924 947.5 923.5 949.5"/>
<path class="ow" d="M893.2 1028 L903 1025.6 Q904.2 1027.3 903.2 1029 L893.2 1032.5 Z"/>
<path class="ow" d="M887.6 1027.5 L892 1026.3 L893.8 1027.5 L894.2 1033.6 L890 1035.5 L888 1034.4 Z"/>
<path class="o" d="M890.2 1026.8 L890.8 1035" />
<path d="M837.9 1047.0 Q838.1 1051.3 843.0 1051.3 Q847.9 1051.3 848.1 1047.0 Z" fill="#fff" stroke="#333" stroke-width="0.8"/>
<path d="M837.1 1043.0 Q843.0 1040.0 848.9 1043.0 L848.6 1046.0 Q843.0 1049.0 837.4 1046.0 Z" fill="#6a6a6a" stroke="#222" stroke-width="0.8"/>
<rect x="840.1" y="1024.4" width="5.8" height="20.1" rx="2.6" fill="#111" stroke="#111" stroke-width="0.5"/>
<ellipse cx="843" cy="1026.0" rx="2.1" ry="1.5" fill="#ddd" stroke="#333" stroke-width="0.5"/>
<path d="M450.1 1105.2 Q450.3 1109.5 455.2 1109.5 Q460.1 1109.5 460.3 1105.2 Z" fill="#fff" stroke="#333" stroke-width="0.8"/>
<path d="M449.3 1101.2 Q455.2 1098.2 461.1 1101.2 L460.8 1104.2 Q455.2 1107.2 449.6 1104.2 Z" fill="#6a6a6a" stroke="#222" stroke-width="0.8"/>
<rect x="452.1" y="1082.0" width="6.2" height="20.7" rx="2.6" fill="#111" stroke="#111" stroke-width="0.5"/>
<ellipse cx="455.2" cy="1083.6" rx="2.3" ry="1.5" fill="#ddd" stroke="#333" stroke-width="0.5"/>
<path class="nw" d="M121.1 679 L102.3 688.7 L100.2 693 L98 697.4 L86.5 704.6 L66.3 716.1 L60.5 714 L51.9 712.5 L43.2 713.2 L28.8 717.6 L18.7 724.8 L13 734.9 L11.5 745 L10.1 759.4 L5.8 770.9 L2.2 799.7 L7.2 802.6 L15.9 809.1 L27.4 809.8 L38.9 809.8 L47.6 814.1 L53.3 822.8 L58.8 830.9 L79.5 850 L111.3 872.2 L143.1 891.3 L174.9 905.6 L206.7 913.5 L222.6 916.7 L230 920 L232.1 923.1 L233.7 932.6 L241.7 939 L254.4 942.2 L260.7 939 L283 926.3 L302 920 L318 915.1 L333.9 910.4 L343 904 L346.6 900.8 L351.5 888.8 L357.9 882.4 L358.7 858.6 L362.7 844.3 L369 831.5 L376.2 823.6 L375.4 822 L318.2 820.4 L280 814.8 L275 813.4 L244.8 829.3 L226.6 825.1 L190.8 810.8 L162.2 794.1 L143 777.4 L139.8 772.3 L135.5 765.1 L135.5 756.5 L136.9 742.1 L139.8 727.7 L144.1 714.7 L138.4 707.5 L129.7 698.8 L124 687.3 L121.1 679 Z"/>
<path class="o" d="M121.1 679 C118 680.6 105.8 686.4 102.3 688.7 C98.8 691 100.9 691.5 100.2 693 C99.5 694.5 100.3 695.5 98 697.4 C95.7 699.3 88.4 703.4 86.5 704.6"/>
<path class="o" d="M86.5 704.6 C83.1 706.5 70.6 714.5 66.3 716.1 C62 717.7 62.9 714.6 60.5 714 C58.1 713.4 54.8 712.6 51.9 712.5 C49 712.4 47.1 712.4 43.2 713.2 C39.4 714.1 32.9 715.7 28.8 717.6 C24.7 719.5 21.3 721.9 18.7 724.8 C16.1 727.7 14.2 731.5 13 734.9 C11.8 738.3 12 740.9 11.5 745 C11 749.1 10.3 757 10.1 759.4"/>
<path class="o" d="M10.1 759.4 L5.8 770.9 L2.2 799.7 L7.2 802.6"/>
<path class="o" d="M11.5 745 C11.3 749.3 10.9 761.3 10.1 770.9 C9.3 780.5 7.1 797.3 6.5 802.6"/>
<path class="o" d="M7.2 802.6 C8.7 803.7 12.5 807.9 15.9 809.1 C19.3 810.3 23.6 809.7 27.4 809.8 C31.2 809.9 37 809.8 38.9 809.8"/>
<path class="o" d="M38.9 809.8 C40.4 810.5 45.2 811.9 47.6 814.1 C50 816.3 51.4 820 53.3 822.8 C55.2 825.6 54.4 826.4 58.8 830.9 C63.2 835.4 70.8 843.1 79.5 850 C88.2 856.9 100.7 865.3 111.3 872.2 C121.9 879.1 132.5 885.7 143.1 891.3 C153.7 896.9 164.3 901.9 174.9 905.6 C185.5 909.3 198.8 911.6 206.7 913.5 C214.6 915.4 218.7 915.6 222.6 916.7 C226.5 917.8 228.4 918.9 230 920 C231.6 921.1 231.5 921 232.1 923.1 C232.7 925.2 232.1 930 233.7 932.6 C235.3 935.2 238.2 937.4 241.7 939 C245.1 940.6 251.2 942.2 254.4 942.2 C257.6 942.2 255.9 941.6 260.7 939 C265.5 936.4 279.3 928.4 283 926.3"/>
<path class="o" d="M283 926.3 L302 920 L318 915.1"/>
<path class="o" d="M318 915.1 C320.6 914.3 329.7 912.2 333.9 910.4 C338.1 908.5 340.9 905.6 343 904 C345.1 902.4 345.2 903.3 346.6 900.8 C348 898.3 349.6 891.9 351.5 888.8 C353.4 885.7 356.7 887.4 357.9 882.4 C359.1 877.4 357.9 865 358.7 858.6 C359.5 852.2 361 848.8 362.7 844.3 C364.4 839.8 366.8 835 369 831.5 C371.2 828 375.1 825.2 376.2 823.6 C377.3 822 375.5 822.3 375.4 822"/>
<path class="o" d="M375.4 822 L318.2 820.4 L280 814.8 L275 813.4"/>
<path class="o" d="M275 813.4 L244.8 829.3"/>
<path class="o" d="M244.8 829.3 C241.8 828.6 235.6 828.2 226.6 825.1 C217.6 822 201.5 816 190.8 810.8 C180.1 805.6 170.2 799.7 162.2 794.1 C154.2 788.5 146.7 781 143 777.4 C139.3 773.8 140.3 773.1 139.8 772.3"/>
<path class="o" d="M139.8 772.3 C139.1 771.1 136.2 767.7 135.5 765.1 C134.8 762.5 135.3 760.3 135.5 756.5 C135.7 752.7 136.2 746.9 136.9 742.1 C137.6 737.3 138.6 732.3 139.8 727.7 C141 723.1 144.3 718.1 144.1 714.7 C143.9 711.3 140.8 710.1 138.4 707.5 C136 704.9 132.1 702.2 129.7 698.8 C127.3 695.4 125.4 690.6 124 687.3 C122.6 684 121.6 680.4 121.1 679"/>
<path class="ow" d="M15.5 726 Q15 721.5 18.5 721 Q21.8 721 22 724.5 Z M28 719.5 Q28.5 715 31.5 714.7 Q34.5 714.7 34.5 718 Z M39.6 714.2 Q40.5 711.2 43 711.3 Q45 711.6 45 713.3 Z"/>
<path class="o" d="M136 778 C134.8 778.7 131.2 780 129 782 C126.8 784 124 786.8 122.5 790 C121 793.2 119.7 797.4 120 801.1 C120.3 804.8 121.5 808.2 124.5 812.3 C127.5 816.4 132.2 821.1 137.8 825.6 C143.4 830.1 151.2 835.4 157.9 839 C164.6 842.6 172 845.5 177.9 847.4 C183.8 849.3 188.7 850 193.5 850.5 C198.3 851 202.4 851.3 206.8 850.5 C211.2 849.7 215.8 848.1 220.2 845.6 C224.6 843.1 230.9 837.8 233.5 835.6 C236.1 833.4 235.4 832.8 235.8 832.3"/>
<path class="o" d="M136 778 C137.2 779.3 139 782.3 143 786 C147 789.7 152.3 794.9 160 800 C167.7 805.1 179.8 812.4 189 816.7 C198.2 821 207.2 823.4 215 826 C222.8 828.6 232.3 831.2 235.8 832.3"/>
<path class="o" d="M235.8 832.3 L274.7 813.4"/>
<circle class="o" cx="148.5" cy="836.5" r="1.6"/>
<path class="o" d="M313.2 856.3 C308.7 857.9 293.3 862.2 286.2 865.9 C279.1 869.6 274.6 873.8 270.3 878.6 C266.1 883.4 262.6 885.5 260.7 894.5 C258.8 903.5 259.4 926.2 259.1 932.6"/>
<path class="o" d="M297.4 885 L297.4 913.5"/>
<path class="ow" d="M274.7 909 L274.7 904.6 L279 903.5 L282.5 906 L282.5 932 L278.5 934.7 L274.7 933"/>
<path class="ow" d="M264.5 940 L265 921 L268.5 912 L272 909 L276 912 L279 930 L277.5 933 L273 923 L270 936 L266.5 941"/>
<path class="t" d="M266.5 930 L268 918 L271 914"/>
<path class="t" d="M260.2 905.7 L260.2 941"/>
<path class="dd" d="M37.5 747.8 L50.5 734.9"/>
<path class="d" d="M56.2 732 L75 720.5"/>
<path class="dd" d="M72 757 L105 726"/>
<path class="dd" d="M90 752 L116 729"/>
<path class="d" d="M62 808.4 C64.6 803.1 72.8 785.4 77.8 776.7 C82.8 768.1 87.7 762.5 92.3 756.5 C96.9 750.5 99.9 748.5 105.2 740.6 C110.5 732.7 120.9 714.2 124 708.9"/>
<path class="d" d="M138.4 727.7 C135.3 731.5 124.4 743.5 119.6 750.7 C114.8 757.9 112.1 764.6 109.6 770.9 C107.1 777.1 105 782.7 104.5 788.2 C104 793.7 106.3 801.4 106.7 804"/>
<path class="d" d="M18.7 765 C18.5 768.3 17.9 778.2 17.5 785 C17.1 791.8 16.7 802.5 16.5 806"/>
<path class="d" d="M30.3 758 C29.4 760.8 26.6 769.7 25 775 C23.4 780.3 22.1 785 21 790 C19.9 795 19.1 802.5 18.7 805"/>
<path class="dd" d="M18.7 807 C20.4 804.1 25.2 792.9 28.8 789.6 C32.4 786.4 37 787.2 40.4 787.5 C43.8 787.8 46.9 789.6 49 791.1 C51.1 792.6 52.6 795.8 53.3 796.8"/>
<path class="o" d="M57.7 799.7 C57.5 801.4 57 806.4 56.5 810 C56 813.6 55.1 819.5 54.8 821.4"/>
<path class="d" d="M60 832 C66.7 834.5 85.9 841.6 100 846.8 C114.1 852 131.2 856.9 144.5 863.4 C157.8 869.9 171.6 881.9 180.1 885.7 C188.6 889.5 190.5 887.3 195.7 886.2 C200.9 885.1 205 882.8 211.3 879 C217.6 875.2 226.1 869 233.5 863.4 C240.9 857.8 246.5 852.8 255.8 845.6 C265.1 838.4 283.6 824.3 289.2 820"/>
<path class="dd" d="M206.8 910.2 C211.2 906.1 226.8 891.6 233.5 885.7 C240.2 879.8 241 879.4 246.9 874.6 C252.8 869.8 261.8 862.4 269.2 856.8 C276.6 851.2 282.9 847.1 291.4 841.2 C299.9 835.3 315.5 824.5 320.3 821.2"/>
<path class="d" d="M233.5 888 C236.4 885.8 244.3 880.9 251 874.6 C257.7 868.3 263.2 858.9 273.6 850 C284.1 841.1 307 825.8 313.7 821"/>
<path class="d" d="M313.2 856.3 C317.7 853.6 329.6 845.7 340 840 C350.4 834.3 369.5 825 375.4 822"/>
<path class="d" d="M232 916 C232.7 913.3 235 905.2 236 900 C237 894.8 237.7 887.5 238 885"/>
<path class="dd" d="M70 822 C75 824.7 90 833 100 838 C110 843 125 849.7 130 852"/>
<path class="ow" d="M133.9 646.7 C135.1 646.1 136.3 646.2 137.3 646.7 C138.3 647.2 138.1 647.5 140 649.5 C141.9 651.5 145.7 655.8 149 658.9 C152.3 662 155.5 665 160.1 668.4 C164.7 671.8 171.2 676.2 176.8 679.5 C182.4 682.8 187.9 685.8 193.5 688.4 C199.1 691 204.1 693.1 210.2 695.1 C216.3 697.1 226.4 699 230.2 700.1 C234 701.2 232.5 701 233 701.8 C233.5 702.5 234 703.6 233 704.6 C232 705.6 229.7 706.3 226.8 707.9 C223.9 709.5 219.4 712.4 215.7 714 C212 715.6 208.1 716.8 204.6 717.4 C201.1 718 198.3 718 194.6 717.4 C190.9 716.8 187.1 715.7 182.3 714 C177.5 712.3 171.2 710 165.6 707.3 C160 704.6 154.6 701.2 149 697.9 C143.4 694.6 136.4 690.4 132.3 687.3 C128.2 684.2 126.4 681.9 124.5 679.5 C122.6 677.1 121.7 675.2 121.1 672.8 C120.5 670.4 120.5 667.4 121.1 665 C121.7 662.6 123 660.8 124.5 658.4 C126 656 128.4 652.5 130 650.6 C131.6 648.7 132.7 647.4 133.9 646.7 Z"/>
<path class="c" d="M172.2 709.4 L172.2 829.9"/>
<path class="c" d="M164.7 900.8 L164.7 981.9 L241.7 940"/>
<path class="c" d="M985.7 184.2 L952.9 203.4 L1063 269"/>
<path class="c" d="M842.5 466.8 L842.5 682"/>
<path class="c" d="M843 917.7 L842.8 1024.6"/>
<path class="c" d="M356 873 L455 816 L455 1082"/>
<text x="666" y="138">6</text>
<text x="1105.3" y="249">5</text>
<text x="505.1" y="313">2</text>
<text x="517.9" y="313">:</text>
<text x="524.3" y="313">2</text>
<text x="1147.9" y="335">5</text>
<text x="1160.7" y="335">:</text>
<text x="1167.1" y="335">2</text>
<text x="1167.6" y="428.5">7</text>
<text x="1047.4" y="410.5">2</text>
<text x="1169.8" y="558.5">8</text>
<path d="M386.1 537.8 L384.4 537.8 L383 539.6 L381.6 540.9 L380 541.9 L380 544 L382.2 542.7 L384 541.1 L384 554.3 L386.1 554.3 Z" fill="#000"/>
<text x="390.2" y="554.3">:</text>
<text x="396.6" y="554.3">2</text>
<text x="228" y="659.5">3</text>
<path d="M249.5 643 L247.8 643 L246.4 644.8 L245 646.1 L243.4 647.1 L243.4 649.2 L245.6 647.9 L247.4 646.3 L247.4 659.5 L249.5 659.5 Z" fill="#000"/>
<path d="M371.5 654.5 L369.8 654.5 L368.4 656.3 L367 657.6 L365.4 658.6 L365.4 660.7 L367.6 659.4 L369.4 657.8 L369.4 671 L371.5 671 Z" fill="#000"/>
<text x="1096.8" y="823.3">9</text>
<path d="M63.3 902.8 L61.6 902.8 L60.2 904.6 L58.8 905.9 L57.2 906.9 L57.2 909 L59.4 907.7 L61.2 906.1 L61.2 919.3 L63.3 919.3 Z" fill="#000"/>
<text x="67.4" y="919.3">6</text>
<path d="M792.8 1014.7 L791.1 1014.7 L789.7 1016.5 L788.3 1017.8 L786.7 1018.8 L786.7 1020.9 L788.9 1019.6 L790.7 1018 L790.7 1031.2 L792.8 1031.2 Z" fill="#000"/>
<text x="796.9" y="1031.2">8</text>
<path d="M928.5 1048 L926.8 1048 L925.4 1049.8 L924 1051.1 L922.4 1052.1 L922.4 1054.2 L924.6 1052.9 L926.4 1051.3 L926.4 1064.5 L928.5 1064.5 Z" fill="#000"/>
<text x="932.6" y="1064.5">5</text>
<path d="M1012 1040.9 L1010.3 1040.9 L1008.9 1042.7 L1007.5 1044 L1005.9 1045 L1005.9 1047.1 L1008.1 1045.8 L1009.9 1044.2 L1009.9 1057.4 L1012 1057.4 Z" fill="#000"/>
<text x="1016.1" y="1057.4">4</text>
<path d="M404.7 1069.8 L403 1069.8 L401.6 1071.6 L400.2 1072.9 L398.6 1073.9 L398.6 1076 L400.8 1074.7 L402.6 1073.1 L402.6 1086.3 L404.7 1086.3 Z" fill="#000"/>
<text x="408.8" y="1086.3">8</text>
<path class="l" d="M682.4 135.8 L713.4 154.4 M1056 203 L1097.4 226.8 M538.2 296.7 L585 270 M1126.2 307 L1147.8 319.5 M1129.7 393.2 L1163.7 412.9 M1009.7 426.4 L1043.6 406.6 M1145.8 567.6 L1167.6 555.3 M414 547.8 L456 571.9 M184.8 677.7 L223 655.8 M377.6 664.6 L429.7 695.7 M1057.8 786.3 L1095 808.4 M84.3 904.6 L116 887.5 M813.4 1025.3 L836.8 1038.6 M896.8 1034.6 L918 1046.2 M970.3 1018.6 L1004.8 1038.6 M424.3 1083.3 L447.7 1096.6"/>
</svg>
</body></html>
